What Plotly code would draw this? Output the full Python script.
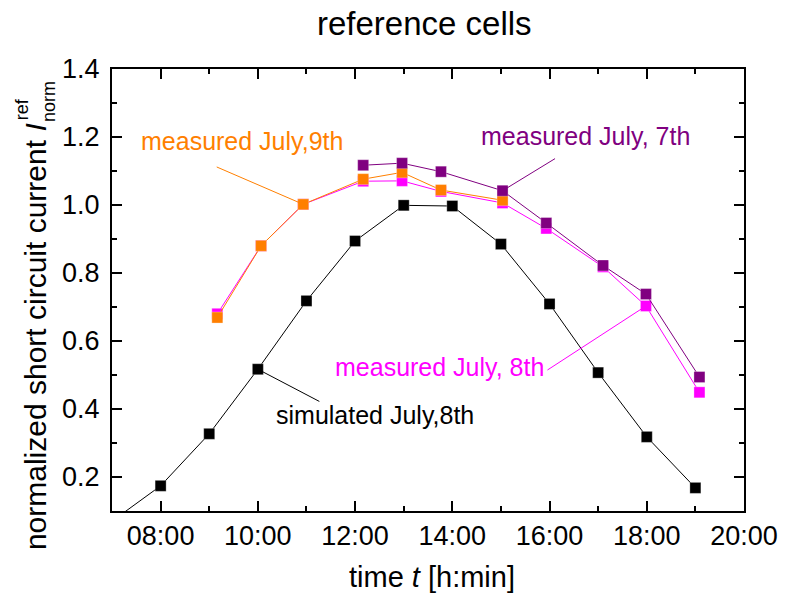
import plotly.graph_objects as go

# --- data -----------------------------------------------------------------
sim_times = ["07:00", "08:00", "09:00", "10:00", "11:00", "12:00", "13:00",
             "14:00", "15:00", "16:00", "17:00", "18:00", "19:00"]
sim_values = [0.07, 0.174, 0.327, 0.517, 0.718, 0.894, 0.999,
              0.997, 0.885, 0.709, 0.507, 0.318, 0.168]

jul8_times = ["09:10", "10:04", "10:56", "12:10", "12:58", "13:46",
              "15:02", "15:56", "17:06", "17:59", "19:05"]
jul8_values = [0.680, 0.880, 1.002, 1.070, 1.071, 1.040,
               1.006, 0.931, 0.818, 0.703, 0.449]

jul9_times = ["09:10", "10:04", "10:56", "12:10", "12:58", "13:46", "15:02"]
jul9_values = [0.669, 0.880, 1.002, 1.076, 1.096, 1.044, 1.014]

jul7_times = ["12:10", "12:58", "13:46", "15:02", "15:56", "17:06", "17:59", "19:05"]
jul7_values = [1.117, 1.123, 1.098, 1.042, 0.947, 0.822, 0.738, 0.494]

x_tick_vals = [8, 10, 12, 14, 16, 18, 20]
x_tick_text = ["08:00", "10:00", "12:00", "14:00", "16:00", "18:00", "20:00"]
y_tick_vals = [0.2, 0.4, 0.6, 0.8, 1.0, 1.2, 1.4]
y_tick_text = ["0.2", "0.4", "0.6", "0.8", "1.0", "1.2", "1.4"]


def hours(t):
    h, m = t.split(":")
    return int(h) + int(m) / 60.0


FONT = "Liberation Sans, Arial, sans-serif"
BLACK = "#000000"
MAGENTA = "#ff00ff"
ORANGE = "#ff7f00"
PURPLE = "#800080"

fig = go.Figure()


def add_series(times, values, color):
    fig.add_trace(go.Scatter(
        x=[hours(t) for t in times], y=values,
        mode="lines+markers",
        line=dict(color=color, width=1),
        marker=dict(symbol="square", size=11, color=color,
                    line=dict(color="rgba(255,255,255,0.6)", width=0.5)),
        showlegend=False, cliponaxis=True,
    ))


add_series(sim_times, sim_values, BLACK)
add_series(jul8_times, jul8_values, MAGENTA)
add_series(jul9_times, jul9_values, ORANGE)
add_series(jul7_times, jul7_values, PURPLE)

# --- leader lines from the labels to their series -------------------------
def leader(t, v, ax, ay, color):
    fig.add_annotation(x=hours(t), y=v, xref="x", yref="y", text="",
                       showarrow=True, arrowhead=0, arrowwidth=1,
                       arrowcolor=color, ax=ax, ay=ay, standoff=0)


leader(jul9_times[2], jul9_values[2], -88, -38, ORANGE)
leader(jul7_times[3], jul7_values[3], 54, -33, PURPLE)
leader(jul8_times[9], jul8_values[9], -100, 65, MAGENTA)
leader(sim_times[3], sim_values[3], 63, 33, BLACK)

# --- series labels ---------------------------------------------------------
def label(text, px, py, color):
    fig.add_annotation(x=(px - 112) / 641, y=(511 - py) / 442,
                       xref="paper", yref="paper", text=text,
                       showarrow=False, xanchor="center", yanchor="middle",
                       font=dict(family=FONT, size=25, color=color))


label("measured July,9th", 244, 141, ORANGE)
label("measured July, 7th", 592, 136, PURPLE)
label("measured July, 8th", 444, 367, MAGENTA)
label("simulated July,8th", 379, 415, BLACK)

# --- titles ----------------------------------------------------------------
fig.add_annotation(x=(429 - 112) / 641, y=(511 - 24) / 442, xref="paper", yref="paper",
                   text="reference cells", showarrow=False,
                   xanchor="center", yanchor="middle",
                   font=dict(family=FONT, size=33, color=BLACK))

fig.add_annotation(x=(437 - 112) / 641, y=(511 - 577) / 442, xref="paper", yref="paper",
                   text="time <i>t</i> [h:min]", showarrow=False,
                   xanchor="center", yanchor="middle",
                   font=dict(family=FONT, size=29, color=BLACK))

fig.add_annotation(x=(34 - 112) / 641, y=(511 - 337) / 442, xref="paper", yref="paper",
                   text="normalized short circuit current <i>I</i>", showarrow=False,
                   textangle=-90, xanchor="center", yanchor="middle",
                   font=dict(family=FONT, size=30, color=BLACK))
fig.add_annotation(x=(21 - 112) / 641, y=(511 - 109) / 442, xref="paper", yref="paper",
                   text="ref", showarrow=False, textangle=-90,
                   xanchor="center", yanchor="middle",
                   font=dict(family=FONT, size=18, color=BLACK))
fig.add_annotation(x=(48 - 112) / 641, y=(511 - 101) / 442, xref="paper", yref="paper",
                   text="norm", showarrow=False, textangle=-90,
                   xanchor="center", yanchor="middle",
                   font=dict(family=FONT, size=18, color=BLACK))

axis_common = dict(
    showline=True, linecolor=BLACK, linewidth=2, mirror="ticks",
    ticks="inside", ticklen=10, tickwidth=1.5, tickcolor=BLACK,
    showgrid=False, zeroline=False,
    tickfont=dict(family=FONT, size=27, color=BLACK),
)

fig.update_xaxes(range=[7, 20], tickmode="array", tickvals=x_tick_vals,
                 ticktext=x_tick_text, ticklabelstandoff=0,
                 minor=dict(tickmode="linear", tick0=7, dtick=1, ticks="inside",
                            ticklen=5, tickwidth=1.5, tickcolor=BLACK),
                 **axis_common)
fig.update_yaxes(range=[0.1, 1.4], tickmode="array", tickvals=y_tick_vals,
                 ticktext=y_tick_text, ticklabelstandoff=5,
                 minor=dict(tickmode="linear", tick0=0.1, dtick=0.1, ticks="inside",
                            ticklen=5, tickwidth=1.5, tickcolor=BLACK),
                 **axis_common)

fig.update_layout(
    width=790, height=599,
    margin=dict(l=112, r=37, t=69, b=88),
    paper_bgcolor="white", plot_bgcolor="white",
    font=dict(family=FONT, color=BLACK),
)

fig.write_html("out.html")
